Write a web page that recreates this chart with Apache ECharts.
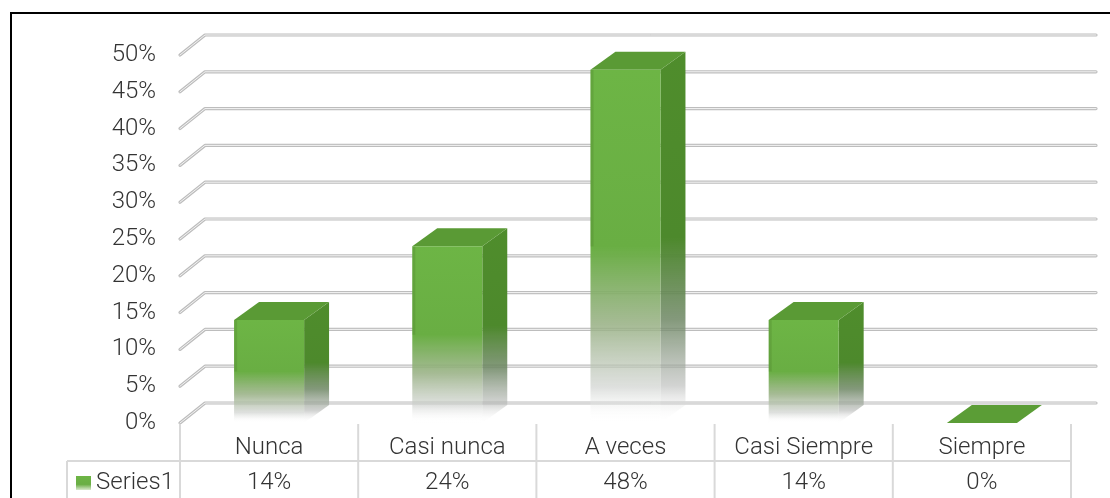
<!DOCTYPE html>
<html>
<head>
<meta charset="utf-8">
<script src="https://cdn.jsdelivr.net/npm/echarts@6/dist/echarts.min.js"></script>
<style>
  html, body { margin: 0; padding: 0; background: #fff; }
  #chart { width: 1110px; height: 498px; }
</style>
</head>
<body>
<div id="chart"></div>
<script>
// ---- data ----
const categories = ['Nunca', 'Casi nunca', 'A veces', 'Casi Siempre', 'Siempre'];
const values = [14, 24, 48, 14, 0];
const yTicks = [0, 5, 10, 15, 20, 25, 30, 35, 40, 45, 50];
const seriesName = 'Series1';

const FONT = "Roboto, sans-serif";
const FW = 300;
const FS = 24;
const TXT = '#333333';
const GDX = 25, GDY = -20;   // wall depth
const BDX_R = 0.14, BDY = -18; // bar depth

const chart = echarts.init(document.getElementById('chart'));

function frontGrad() {
  return new echarts.graphic.LinearGradient(0, 0, 0, 1, [
    { offset: 0, color: '#6db545' },
    { offset: 0.5, color: '#69ae43' },
    { offset: 0.72, color: 'rgba(150,175,130,0.85)' },
    { offset: 0.9, color: 'rgba(205,208,205,0.65)' },
    { offset: 1, color: 'rgba(255,255,255,0)' }
  ]);
}
function sideGrad() {
  return new echarts.graphic.LinearGradient(0, 0, 0, 1, [
    { offset: 0, color: '#4f8d2c' },
    { offset: 0.5, color: '#4d892c' },
    { offset: 0.72, color: 'rgba(110,135,100,0.85)' },
    { offset: 0.9, color: 'rgba(180,182,180,0.6)' },
    { offset: 1, color: 'rgba(255,255,255,0)' }
  ]);
}

const labelBase = { fontSize: FS, color: TXT, fontFamily: FONT, fontWeight: FW };

const option = {
  animation: false,
  color: ['#6db545'],
  grid: { left: 180, right: 39, top: 55, bottom: 75, containLabel: false },
  legend: {
    data: [seriesName],
    left: 71, top: 466,
    icon: 'rect', itemWidth: 15, itemHeight: 14, itemGap: 10,
    textStyle: Object.assign({}, labelBase)
  },
  xAxis: [
    {
      type: 'category', data: categories,
      axisLine: { show: false }, axisTick: { show: false }, splitLine: { show: false },
      axisLabel: Object.assign({ interval: 0, hideOverlap: false, margin: 13 }, labelBase)
    },
    {
      type: 'category', data: categories, position: 'bottom', offset: 36,
      axisLine: { show: false }, axisTick: { show: false }, splitLine: { show: false },
      axisLabel: Object.assign({
        interval: 0, hideOverlap: false, margin: 12,
        formatter: function (v, i) { return values[i] + '%'; }
      }, labelBase)
    }
  ],
  yAxis: {
    type: 'value', min: 0, max: 50, interval: 5,
    axisLine: { show: false }, axisTick: { show: false }, splitLine: { show: false },
    axisLabel: Object.assign({ formatter: '{value}%', margin: 24 }, labelBase)
  },
  graphic: [
    { type: 'rect', shape: { x: 11, y: 13, width: 1130, height: 520 },
      style: { fill: 'none', stroke: '#000', lineWidth: 2 }, z: 100, silent: true }
  ],
  series: [
    // gridlines (3D wall + floor edges)
    {
      type: 'custom', name: 'grid', z: 1, silent: true,
      data: yTicks.map(v => [0, v]),
      renderItem: function (params, api) {
        const cs = params.coordSys;
        const y = api.coord([0, api.value(1)])[1];
        const l = cs.x, r = cs.x + cs.width;
        const pts = [[l, y], [l + GDX, y + GDY], [r + GDX, y + GDY]];
        return {
          type: 'group', children: [
            { type: 'polyline', shape: { points: pts }, style: { stroke: '#bdbdbd', lineWidth: 3.2, fill: null, lineCap: 'round', lineJoin: 'round' } },
            { type: 'polyline', shape: { points: pts }, style: { stroke: '#f4f4f4', lineWidth: 1, fill: null, lineCap: 'round', lineJoin: 'round' } }
          ]
        };
      }
    },
    // data table lines
    {
      type: 'custom', name: 'table', z: 1, silent: true,
      data: [[0]],
      renderItem: function (params, api) {
        const cs = params.coordSys;
        const base = cs.y + cs.height;
        const band = api.size([1, 0])[0];
        const H = api.getHeight();
        const rowY = base + 38;
        const children = [];
        for (let k = 0; k <= categories.length; k++) {
          const x = cs.x + k * band;
          children.push({ type: 'line', shape: { x1: x, y1: base + 1, x2: x, y2: H + 5 }, style: { stroke: '#d9d9d9', lineWidth: 2 } });
        }
        children.push({ type: 'line', shape: { x1: 67, y1: rowY, x2: cs.x + cs.width, y2: rowY }, style: { stroke: '#d9d9d9', lineWidth: 2 } });
        children.push({ type: 'line', shape: { x1: 67, y1: rowY, x2: 67, y2: H + 5 }, style: { stroke: '#d9d9d9', lineWidth: 2 } });
        return { type: 'group', children: children };
      }
    },
    // 3D bars
    {
      type: 'custom', name: seriesName, z: 5,
      itemStyle: {
        color: new echarts.graphic.LinearGradient(0, 0, 0, 1, [
          { offset: 0, color: '#6db545' }, { offset: 0.6, color: '#6aae45' }, { offset: 1, color: '#d8e8cc' }
        ])
      },
      data: values.map((v, i) => [i, v]),
      renderItem: function (params, api) {
        const i = api.value(0), v = api.value(1);
        const top = api.coord([i, v]);
        const base = api.coord([i, 0]);
        const band = api.size([1, 0])[0];
        const w = band * 0.393;
        const dx = band * BDX_R, dy = BDY;
        const x1 = top[0] - w / 2, x2 = top[0] + w / 2;
        const ty = top[1], by = base[1];
        if (v <= 0) {
          return {
            type: 'polygon',
            shape: { points: [[x1, by], [x2, by], [x2 + dx, by + dy], [x1 + dx, by + dy]] },
            style: { fill: '#5b9d36' }
          };
        }
        return {
          type: 'group', children: [
            { type: 'polygon', shape: { points: [[x2, ty], [x2 + dx, ty + dy], [x2 + dx, by + dy], [x2, by]] }, style: { fill: sideGrad() } },
            { type: 'polygon', shape: { points: [[x1, ty], [x1 + dx, ty + dy], [x2 + dx, ty + dy], [x2, ty]] }, style: { fill: '#5a9a35' } },
            { type: 'rect', shape: { x: x1, y: ty, width: w, height: by - ty }, style: { fill: frontGrad() } },
            { type: 'rect', shape: { x: x1, y: ty, width: 3, height: (by - ty) * 0.5 }, style: { fill: 'rgba(70,120,40,0.25)' } }
          ]
        };
      }
    }
  ]
};
chart.setOption(option);
</script>
</body>
</html>
